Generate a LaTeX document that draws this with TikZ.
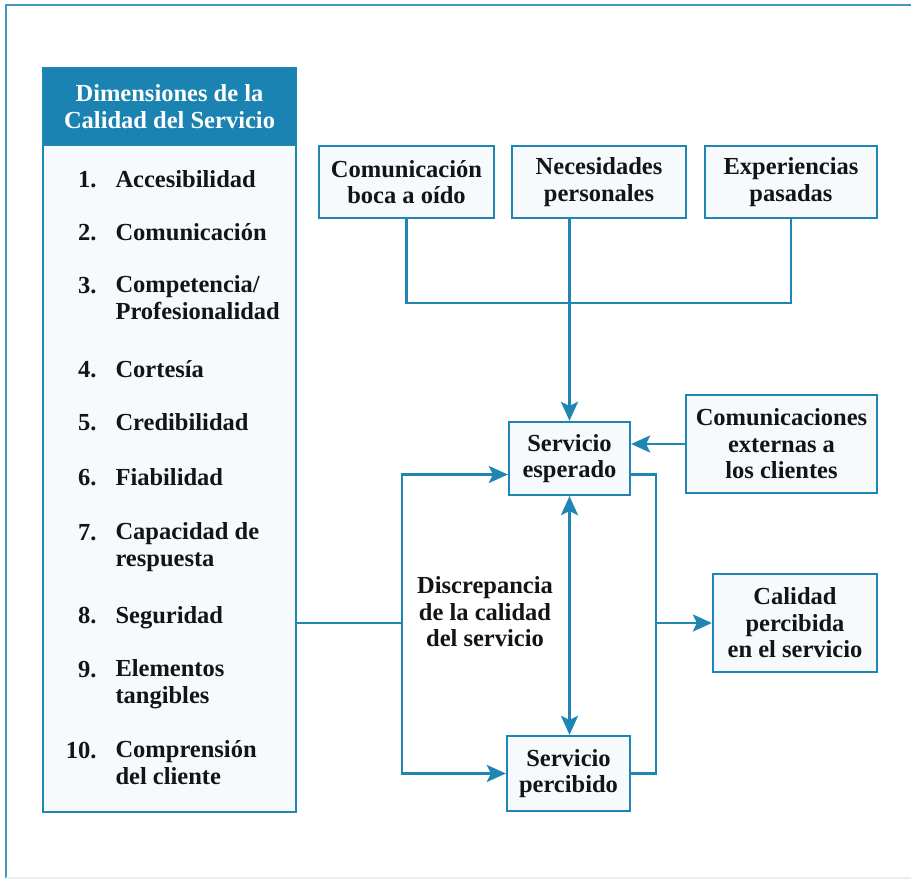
\documentclass[tikz,border=0pt]{standalone}
\usepackage{fontspec}
\setmainfont{Liberation Serif}
\usetikzlibrary{arrows.meta}
\definecolor{lineblue}{HTML}{1F86B4}
\definecolor{headblue}{HTML}{1B83B2}
\definecolor{boxfill}{HTML}{F6FAFC}
\definecolor{ink}{HTML}{141414}
\begin{document}
\begin{tikzpicture}[x=1pt,y=-1pt,
  every node/.style={font=\fontsize{24.5}{26.5}\selectfont\bfseries, text=ink},
  box/.style={draw=lineblue, line width=2.3pt, fill=boxfill, align=center, inner sep=0pt},
  link/.style={draw=lineblue, line width=2.3pt},
  tip/.tip={Stealth[length=19pt,width=17pt,inset=4pt]},
  arr/.style={link, -tip},
  biarr/.style={link, tip-tip},
  num/.style={anchor=base east},
  item/.style={anchor=base west, align=left}]
\useasboundingbox (0,0) rectangle (911,881);
\fill[white] (0,0) rectangle (911,881);

% outer frame
\draw[lineblue!85, line width=2.5pt] (6,878) -- (6,5) -- (911,5);
\draw[lineblue!12, line width=2pt] (6,878) -- (911,878);

% list of dimensions (multi-line items are anchored on their last baseline)
\node[box, minimum width=253pt, minimum height=744pt] (panel) at (169.5,440) {};
\node[draw=lineblue, line width=2.3pt, fill=headblue, minimum width=253pt, minimum height=77pt,
      inner sep=0pt, anchor=north, align=center, text=white] (head) at (panel.north)
      {Dimensiones de la\\Calidad del Servicio};

\node[num] (n1) at (100,187) {1.};  \node[item] (t1) at (112,187) {Accesibilidad};
\node[num] (n2) at (100,240) {2.};  \node[item] (t2) at (112,240) {Comunicación};
\node[num] (n3) at (100,293) {3.};  \node[item] (t3) at (112,319) {Competencia/\\Profesionalidad};
\node[num] (n4) at (100,377) {4.};  \node[item] (t4) at (112,377) {Cortesía};
\node[num] (n5) at (100,430) {5.};  \node[item] (t5) at (112,430) {Credibilidad};
\node[num] (n6) at (100,485) {6.};  \node[item] (t6) at (112,485) {Fiabilidad};
\node[num] (n7) at (100,540) {7.};  \node[item] (t7) at (112,566) {Capacidad de\\respuesta};
\node[num] (n8) at (100,623) {8.};  \node[item] (t8) at (112,623) {Seguridad};
\node[num] (n9) at (100,677) {9.};  \node[item] (t9) at (112,703) {Elementos\\tangibles};
\node[num] (n10) at (100,758) {10.}; \node[item] (t10) at (112,784) {Comprensión\\del cliente};

% model boxes
\node[box, minimum width=175pt, minimum height=72pt] (boca) at (406.5,182) {Comunicación\\boca a oído};
\node[box, minimum width=174pt, minimum height=72pt] (neces) at (599,182) {Necesidades\\personales};
\node[box, minimum width=172pt, minimum height=72pt] (exper) at (791,182) {Experiencias\\pasadas};
\node[box, minimum width=121pt, minimum height=73pt] (esper) at (569.5,458.5) {Servicio\\esperado};
\node[box, minimum width=191pt, minimum height=98pt] (extern) at (781.5,444) {Comunicaciones\\externas a\\los clientes};
\node[box, minimum width=164pt, minimum height=98pt] (calid) at (795,623) {Calidad\\percibida\\en el servicio};
\node[box, minimum width=123pt, minimum height=75pt] (percib) at (568.5,773.5) {Servicio\\percibido};
\node[align=center, inner sep=0pt] (gap) at (485,612) {Discrepancia\\de la calidad\\del servicio};

% junction points
\coordinate (join) at (571,303);
\coordinate (lx) at (402,623);
\coordinate (rx) at (656,623);

% connectors
\draw[link] (boca.south) |- (join) -| (exper.south);
\draw[arr] (esper.north |- neces.south) -- (esper.north);
\draw[arr] (extern.west) -- (extern.west -| esper.east);
\draw[link] (panel.east |- lx) -- (lx);
\draw[arr] (lx) |- ([yshift=-16pt]esper.west);
\draw[arr] (lx) |- (percib.west);
\draw[link] ([yshift=-16pt]esper.east) -| (rx |- percib.east) -- (percib.east);
\draw[arr] (rx) -- (calid.west);
\draw[biarr] (esper.south) -- (esper.south |- percib.north);
\end{tikzpicture}
\end{document}
